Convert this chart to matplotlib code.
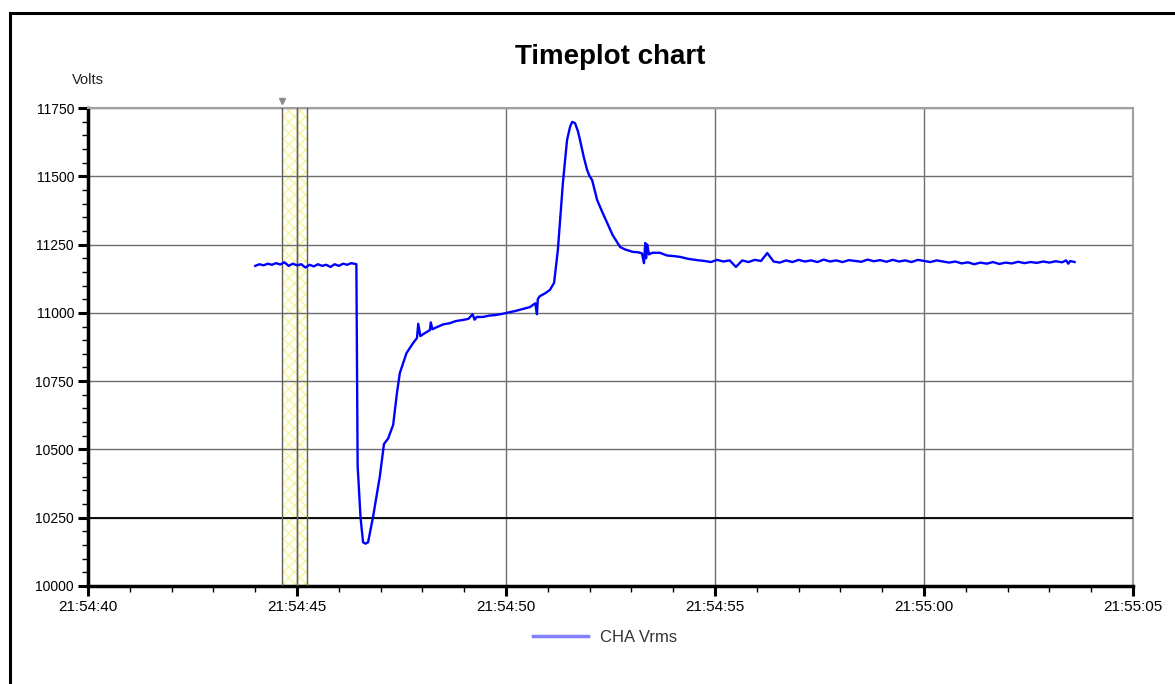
import datetime as dt

import matplotlib
matplotlib.use("Agg")
import matplotlib.pyplot as plt
import matplotlib.dates as mdates
from matplotlib.patches import Rectangle

plt.rcParams["font.family"] = ["Liberation Sans", "DejaVu Sans"]
plt.rcParams["hatch.linewidth"] = 0.8

# seconds after 21:54:40 and the CHA Vrms reading at that moment
T_SEC = [
    4.00, 4.10, 4.20, 4.30, 4.40, 4.50, 4.60, 4.70, 4.80, 4.90,
    5.00, 5.10, 5.20, 5.30, 5.40, 5.50, 5.60, 5.70, 5.80, 5.90,
    6.00, 6.10, 6.20, 6.30, 6.42, 6.45, 6.52, 6.58, 6.64, 6.70,
    6.82, 6.98, 7.06, 7.08, 7.18, 7.30, 7.39, 7.46, 7.62, 7.78,
    7.87, 7.90, 7.95, 8.05, 8.18, 8.20, 8.24, 8.35, 8.50, 8.65,
    8.80, 8.97, 9.10, 9.20, 9.25, 9.30, 9.45, 9.60, 9.75, 9.90,
    10.02, 10.20, 10.35, 10.50, 10.57, 10.70, 10.74, 10.76, 10.80, 10.95,
    11.05, 11.15, 11.24, 11.30, 11.36, 11.46, 11.53, 11.58, 11.65, 11.72,
    11.77, 11.86, 11.94, 12.00, 12.06, 12.18, 12.30, 12.42, 12.55, 12.73,
    12.85, 13.04, 13.15, 13.25, 13.30, 13.33, 13.35, 13.38, 13.42, 13.50,
    13.68, 13.85, 14.00, 14.16, 14.35, 14.57, 14.75, 14.90, 15.05, 15.20,
    15.35, 15.50, 15.65, 15.80, 15.95, 16.10, 16.25, 16.40, 16.55, 16.70,
    16.85, 17.00, 17.15, 17.30, 17.45, 17.60, 17.75, 17.90, 18.05, 18.20,
    18.35, 18.50, 18.65, 18.80, 18.95, 19.10, 19.25, 19.40, 19.55, 19.70,
    19.85, 20.00, 20.15, 20.30, 20.45, 20.60, 20.75, 20.90, 21.05, 21.20,
    21.35, 21.50, 21.65, 21.80, 21.95, 22.10, 22.25, 22.40, 22.55, 22.70,
    22.85, 23.00, 23.15, 23.30, 23.40, 23.45, 23.50, 23.60,
]
VRMS = [
    11172, 11178, 11174, 11180, 11176, 11182, 11177, 11185, 11172, 11180,
    11174, 11178, 11166, 11176, 11170, 11178, 11172, 11176, 11168, 11178,
    11172, 11180, 11176, 11182, 11178, 10440, 10250, 10160, 10155, 10160,
    10254, 10400, 10498, 10520, 10540, 10590, 10706, 10780, 10853, 10890,
    10908, 10960, 10915, 10925, 10937, 10965, 10940, 10948, 10958, 10962,
    10970, 10974, 10978, 10995, 10975, 10985, 10985, 10990, 10992, 10996,
    11000, 11006, 11012, 11018, 11021, 11035, 10995, 11050, 11060, 11073,
    11084, 11110, 11230, 11350, 11475, 11633, 11680, 11699, 11695, 11665,
    11633, 11570, 11523, 11500, 11486, 11413, 11370, 11329, 11285, 11241,
    11232, 11223, 11222, 11218, 11182, 11256, 11200, 11250, 11214, 11220,
    11220, 11210, 11208, 11205, 11198, 11193, 11190, 11186, 11194, 11188,
    11192, 11168, 11192, 11186, 11194, 11190, 11219, 11188, 11184, 11192,
    11186, 11194, 11188, 11192, 11186, 11195, 11188, 11192, 11186, 11193,
    11190, 11187, 11195, 11189, 11193, 11187, 11194, 11188, 11192, 11186,
    11194, 11190, 11186, 11192, 11188, 11184, 11188, 11181, 11185, 11178,
    11184, 11180, 11186, 11179, 11184, 11181, 11187, 11182, 11186, 11183,
    11188, 11184, 11189, 11185, 11192, 11180, 11190, 11186,
]

# cursor band (seconds after 21:54:40)
BAND_START = 4.64
BAND_MID = 5.00
BAND_END = 5.24

base = dt.datetime(2009, 1, 1, 21, 54, 40)
times = [base + dt.timedelta(seconds=s) for s in T_SEC]

fig = plt.figure(figsize=(11.75, 6.84), dpi=100)
ax = fig.add_axes([0.0749, 0.1433, 0.8894, 0.6988])

# frame around the whole chart (top and left edges)
fig.add_artist(Rectangle((10 / 1175, -0.2), 1.2, 1.2 - 13 / 684,
                         transform=fig.transFigure, fill=False,
                         edgecolor="black", linewidth=2.2))

ax.set_xlim(base, base + dt.timedelta(seconds=25))
ax.set_ylim(10000, 11750)

ax.xaxis.set_major_locator(mdates.SecondLocator(bysecond=range(0, 60, 5)))
ax.xaxis.set_minor_locator(mdates.SecondLocator())
ax.xaxis.set_major_formatter(mdates.DateFormatter("%H:%M:%S"))
ax.set_yticks([10000, 10250, 10500, 10750, 11000, 11250, 11500, 11750])
ax.set_yticks(range(10000, 11751, 50), minor=True)

ax.grid(True, which="major", color="#6e6e6e", linewidth=1.0)
ax.axhline(10250, color="black", linewidth=1.3, zorder=2.6)

# yellow cursor band
b0 = base + dt.timedelta(seconds=BAND_START)
b1 = base + dt.timedelta(seconds=BAND_END)
ax.axvspan(b0, b1, facecolor="#fffff4", edgecolor="#f6f29a",
           hatch="xxx", linewidth=0, zorder=0.5)
for s in (BAND_START, BAND_MID, BAND_END):
    ax.axvline(base + dt.timedelta(seconds=s), color="#5e5e5e", linewidth=1.0, zorder=2.6)
ax.plot([b0], [11775], marker="v", markersize=4, color="#8a8a8a",
        clip_on=False, linestyle="none")

line, = ax.plot(times, VRMS, color="#0000ff", linewidth=1.7, label="CHA Vrms", zorder=3)

for side in ("left", "bottom"):
    ax.spines[side].set_linewidth(2.5)
    ax.spines[side].set_color("black")
for side in ("top", "right"):
    ax.spines[side].set_linewidth(1.5)
    ax.spines[side].set_color("#a0a0a0")

ax.tick_params(which="major", length=7, width=2.2, colors="black", pad=3)
ax.tick_params(axis="x", which="major", labelsize=11)
ax.tick_params(axis="y", which="major", labelsize=10)
ax.tick_params(which="minor", length=4, width=1.0, colors="black")

ax.set_title("Timeplot chart", fontsize=20, fontweight="bold", pad=32)
ax.text(0.0, 1.058, "Volts", transform=ax.transAxes, ha="center",
        va="center", fontsize=10.5, color="#222222")

leg = ax.legend(loc="upper center", bbox_to_anchor=(0.495, -0.06),
                frameon=False, fontsize=12, handlelength=3.3,
                handletextpad=0.7)
leg.get_lines()[0].set_color("#7f7fff")
leg.get_lines()[0].set_linewidth(2.5)
for t in leg.get_texts():
    t.set_color("#333333")

fig.savefig("out.png", dpi=100)
